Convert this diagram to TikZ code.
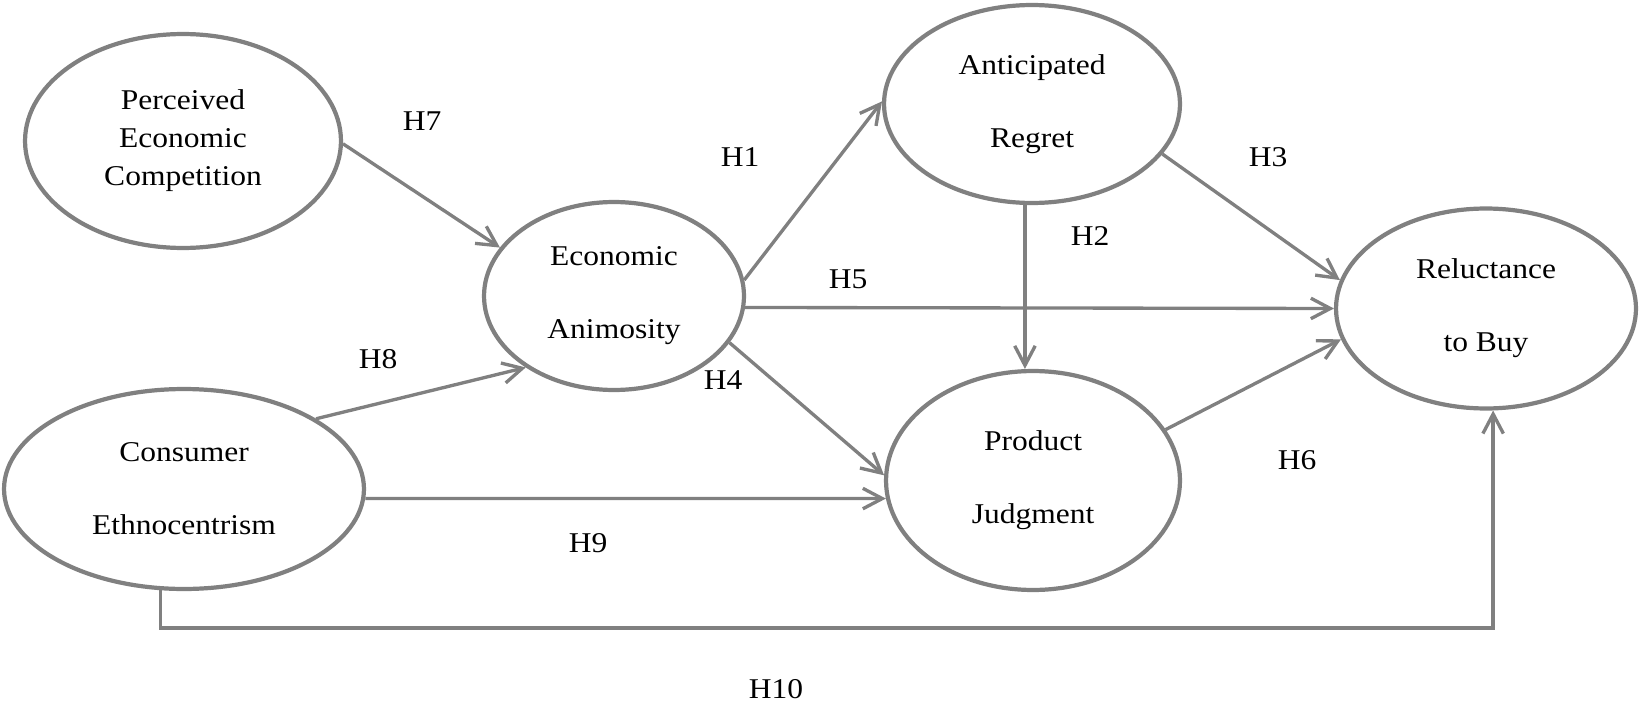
\documentclass[tikz,border=0pt]{standalone}
\usepackage{fontspec}
\setmainfont{Liberation Serif}[FakeStretch=1.1]
\usetikzlibrary{arrows.meta,shapes.geometric}
\tikzset{
  construct/.style={
    draw=gray,
    line width=2.4pt,
    ellipse,
    inner sep=0pt,
    align=center,
    font=\fontsize{16.3}{41.5}\selectfont
  },
  tight/.style={
    construct,
    font=\fontsize{16.3}{21.6}\selectfont
  },
  hyp/.style={
    inner sep=0pt,
    font=\fontsize{16.3}{19.6}\selectfont
  },
  flow/.style={
    -{Straight Barb[length=3.9mm,width=4.1mm]},
    draw=gray,
    line width=1.9pt
  }
}

\begin{document}
\begin{tikzpicture}[x=0.02cm,y=-0.02cm]
  \useasboundingbox (0,0) rectangle (1639,706);

  \node[tight, minimum width=6.32cm, minimum height=4.28cm] (pec) at (183,141) {Perceived\\Economic\\Competition};
  \node[construct, minimum width=5.2cm, minimum height=3.76cm] (ea) at (614,296) {Economic\\Animosity};
  \node[construct, minimum width=5.92cm, minimum height=3.96cm] (ar) at (1032,104) {Anticipated\\Regret};
  \node[construct, minimum width=6.0cm, minimum height=4.0cm] (rb) at (1486,308.5) {Reluctance\\to Buy};
  \node[construct, minimum width=5.88cm, minimum height=4.38cm] (pj) at (1033,480.5) {Product\\Judgment};
  \node[construct, minimum width=7.2cm, minimum height=4.0cm] (ce) at (184,489) {Consumer\\Ethnocentrism};

  \draw[flow] (pec.-1) -- (ea.157);
  \draw[flow] (ce.28.5) -- (ea.219.5);
  \draw[flow] (ce.-3.5) -- (pj.187.7);
  \draw[flow] (ea.7) -- (ar.179);
  \draw[flow] (ea.-5.8) -- (rb.180);
  \draw[flow] (ea.-22.2) -- (pj.178.6);
  \draw[flow] (ar.266.5) -- (pj.north -| ar.266.5);
  \draw[flow] (ar.-21.4) -- (rb.169);
  \draw[flow] (pj.21.4) -- (rb.192);
  \coordinate (low) at (0,628);
  \draw[flow] (ce.257.5) -- (ce.257.5 |- low) -| (rb.274);

  \node[hyp] (h7) at (422,121) {H7};
  \node[hyp] (h1) at (740,157) {H1};
  \node[hyp] (h3) at (1268,157) {H3};
  \node[hyp] (h2) at (1090,236) {H2};
  \node[hyp] (h5) at (848,279) {H5};
  \node[hyp] (h8) at (378,359) {H8};
  \node[hyp] (h4) at (723,380) {H4};
  \node[hyp] (h6) at (1297,460) {H6};
  \node[hyp] (h9) at (588,543) {H9};
  \node[hyp] (h10) at (776,689) {H10};
\end{tikzpicture}
\end{document}
